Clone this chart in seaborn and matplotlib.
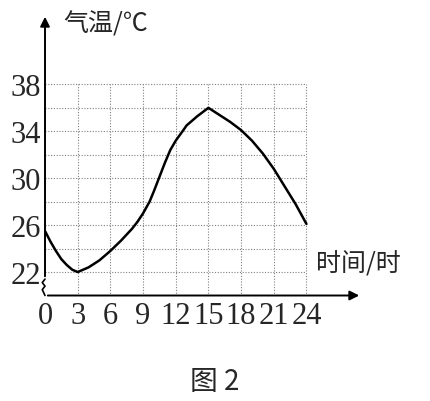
import numpy as np
import pandas as pd
import matplotlib
matplotlib.use("Agg")
import matplotlib.pyplot as plt
import seaborn as sns

# values
hours = [0, 0.5, 1, 1.5, 2, 2.5, 3, 4, 5, 6, 7, 8, 8.5, 9, 9.6, 10, 10.5, 11, 11.5, 12,
         12.7, 13, 14, 15, 16, 17, 18, 19, 20, 21, 22, 23, 24]
temps = [25.5, 24.6, 23.8, 23.1, 22.6, 22.2, 22.0, 22.4, 23.0, 23.8, 24.7, 25.7, 26.3, 27.0, 28.0, 28.9, 30.1,
         31.3, 32.4, 33.2, 34.1, 34.5, 35.3, 36.0, 35.4, 34.8, 34.1, 33.2, 32.1, 30.8, 29.3, 27.8, 26.1]
x_ticks = [0, 3, 6, 9, 12, 15, 18, 21, 24]
y_ticks = [22, 26, 30, 34, 38]

df = pd.DataFrame({"时间": hours, "气温": temps})

sns.set_style("white")
plt.rcParams['font.family'] = ['Liberation Serif', 'Noto Sans CJK SC', 'DejaVu Sans']
cjk = ['Noto Sans CJK SC', 'DejaVu Sans']

fig = plt.figure(figsize=(4.3, 4.02), dpi=100)
ax = fig.add_axes([45/430, 1 - 296.5/402, 317/430, 281.5/402])
ax.set_xlim(0, 29.1)
ax.set_ylim(20, 44)
for s in ax.spines.values():
    s.set_visible(False)

# dotted grid
grid_kw = dict(color="#808080", linestyle=(0, (1, 1.5)), linewidth=0.8, zorder=1)
ax.hlines(np.arange(22, 39, 2), 0, 24, **grid_kw)
ax.vlines(np.arange(3, 25, 3), 20, 38, **grid_kw)

sns.lineplot(data=df, x="时间", y="气温", color="black", linewidth=1.8, ax=ax, zorder=3)

# axes with arrows
ax.annotate("", xy=(29.1, 20), xytext=(0, 20),
            arrowprops=dict(arrowstyle="-|>", color="black", lw=1.4, mutation_scale=14), annotation_clip=False)
ax.annotate("", xy=(0, 44), xytext=(0, 21.4),
            arrowprops=dict(arrowstyle="-|>", color="black", lw=1.4, mutation_scale=14), annotation_clip=False)
# axis break squiggle
ax.plot([0, -0.25, 0, -0.25, 0], [21.4, 21.1, 20.8, 20.5, 20.0], color="black", lw=1.2, clip_on=False)

ax.set_xticks(x_ticks)
ax.set_xticklabels([str(t) for t in x_ticks])
ax.set_yticks(y_ticks)
ax.set_yticklabels([str(t) for t in y_ticks])
ax.tick_params(axis="both", length=0, labelsize=22)
ax.tick_params(axis="x", pad=4)
ax.tick_params(axis="y", pad=3)
ax.set_xlabel("")
ax.set_ylabel("")

fig.text(63/430, 1 - 24/402, "气温/℃", fontsize=18, family=cjk, va="center", ha="left")
fig.text(316/430, 1 - 264/402, "时间/时", fontsize=18, family=cjk, va="center", ha="left")
fig.text(215/430, 1 - 382/402, "图 2", fontsize=20, family=cjk, va="center", ha="center")

fig.savefig("out.png", dpi=100)
